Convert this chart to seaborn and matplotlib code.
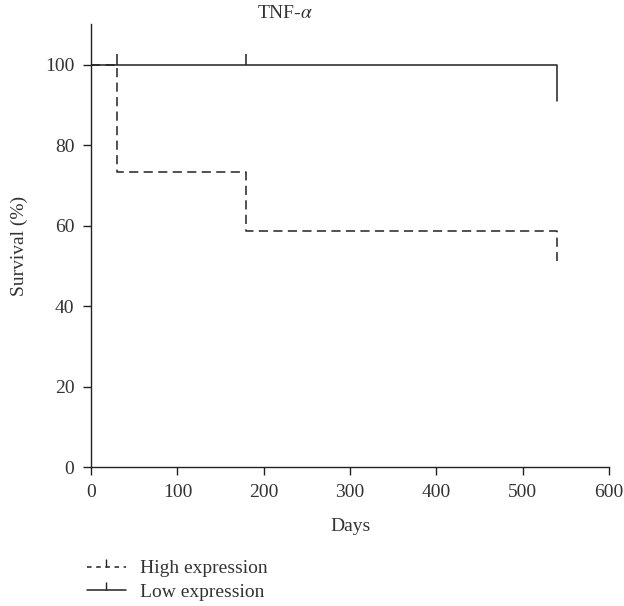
import matplotlib
matplotlib.use("Agg")
import matplotlib.pyplot as plt
from matplotlib.lines import Line2D
import pandas as pd
import seaborn as sns

# survival curves
high_days = [0, 30, 180, 540]
high_surv = [100, 73.3, 58.7, 51.3]
low_days = [0, 540]
low_surv = [100, 90.9]
low_censor_days = [30, 180]
low_censor_surv = [100, 100]

groups = ["High expression", "Low expression"]
x_ticks = [0, 100, 200, 300, 400, 500, 600]
y_ticks = [0, 20, 40, 60, 80, 100]

sns.set_style("ticks")
plt.rcParams["font.family"] = ["Liberation Serif", "DejaVu Serif"]
plt.rcParams["mathtext.fontset"] = "stix"

df = pd.concat([
    pd.DataFrame({"days": high_days, "surv": high_surv, "group": groups[0]}),
    pd.DataFrame({"days": low_days, "surv": low_surv, "group": groups[1]}),
])
censor = pd.DataFrame({"days": low_censor_days, "surv": low_censor_surv})

ink = "#222222"
txt = "#333333"
fs = 14
fig = plt.figure(figsize=(6.24, 6.06), dpi=100)
ax = fig.add_axes([0.146, 0.229, 0.83, 0.731])

sns.lineplot(
    data=df, x="days", y="surv", hue="group", style="group",
    palette=[ink, ink], dashes=[(6, 3.5), ""], drawstyle="steps-post",
    linewidth=1.1, legend=False, ax=ax, sort=False, estimator=None
)
sns.scatterplot(
    data=censor, x="days", y="surv", marker=2, color=ink,
    s=60, linewidth=1.1, ax=ax, legend=False
)

ax.set_xlim(0, 600)
ax.set_ylim(0, 110)
ax.set_xticks(x_ticks)
ax.set_yticks(y_ticks)
ax.spines["top"].set_visible(False)
ax.spines["right"].set_visible(False)
for s in ["left", "bottom"]:
    ax.spines[s].set_color(ink)
    ax.spines[s].set_linewidth(1.0)
ax.tick_params(colors=ink, labelsize=fs, length=6, width=1.0, labelcolor=txt, pad=6)
ax.set_xlabel("Days", fontsize=fs, color=txt, labelpad=12)
ax.set_ylabel("Survival (%)", fontsize=fs, color=txt, labelpad=12)

fig.text(285 / 624, 1 - 14 / 606, r"TNF-$\alpha$", ha="center", va="center",
         fontsize=fs, color=txt)

handles = [
    Line2D([], [], color=ink, ls=(0, (3, 3)), lw=1.1, marker=2, markersize=6),
    Line2D([], [], color=ink, ls="-", lw=1.1, marker=2, markersize=6),
]
leg = fig.legend(handles, groups, loc="upper left", frameon=False, fontsize=fs,
                 handlelength=2.0, handletextpad=0.7, numpoints=1,
                 labelcolor=txt, borderaxespad=0, labelspacing=0.3,
                 bbox_to_anchor=(0.127, 1 - 552 / 606))

fig.savefig("out.png", dpi=100)
